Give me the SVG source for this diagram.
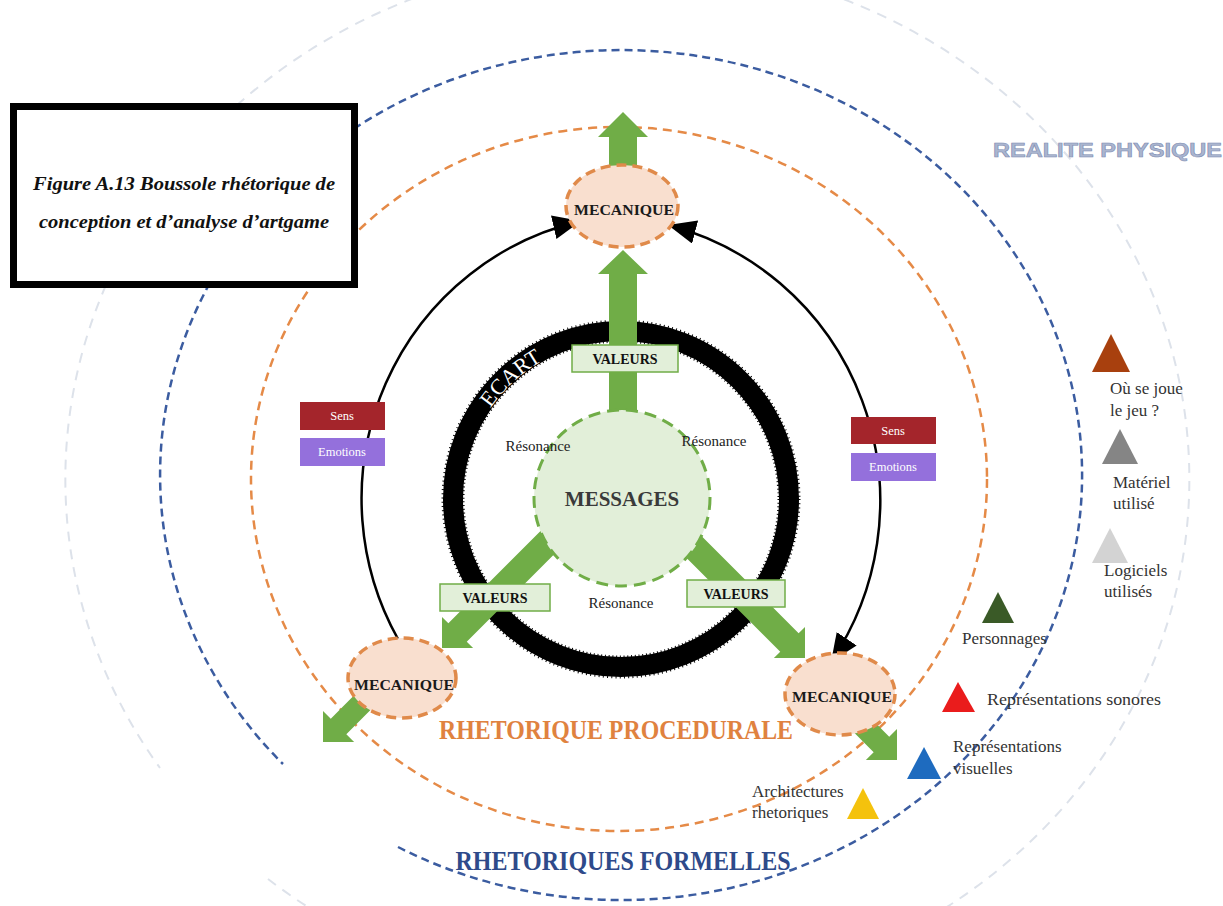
<svg xmlns="http://www.w3.org/2000/svg" width="1223" height="906" viewBox="0 0 1223 906">
<style>
.serif{font-family:"Liberation Serif","Times New Roman",serif}
.lbl{font-family:"Liberation Serif","Times New Roman",serif;font-size:17px;fill:#333}
.mec{fill:#f9dfcf;stroke:#e08a4a;stroke-width:3.5;stroke-dasharray:10 6}
.mect{font-family:"Liberation Serif",serif;font-weight:bold;font-size:14px;fill:#1a1a1a;text-anchor:middle}
.val{fill:#e2efd9;stroke:#70ad47;stroke-width:1.5}
.valt{font-family:"Liberation Serif",serif;font-weight:bold;font-size:14px;fill:#111;text-anchor:middle}
.res{font-family:"Liberation Serif",serif;font-size:15px;fill:#222;text-anchor:middle}
.grn{fill:#70ad47}
.arc{fill:none;stroke:#000;stroke-width:2.5}
.tag{font-family:"Liberation Serif",serif;font-size:12.5px;fill:#fff;text-anchor:middle}
</style>
<defs>
<marker id="ah" markerUnits="userSpaceOnUse" markerWidth="30" markerHeight="26" refX="28" refY="12" orient="auto-start-reverse">
<path d="M0,0 L28,12 L0,24 z" fill="#000"/>
</marker>
<path id="ecartPath" d="M462,499 A159 159 0 0 1 621,340"/>
</defs>
<rect width="1223" height="906" fill="#fff"/>

<g id="realite-physique">
<path d="M268,879 A562 520 0 1 0 160,768" fill="none" stroke="#dde2ea" stroke-width="2" stroke-dasharray="10 8"/>
<text x="993" y="157" font-family="Liberation Sans,Arial,sans-serif" font-weight="bold" font-size="20" fill="#aab5cf" stroke="#7f8db2" stroke-width="0.6" textLength="229" lengthAdjust="spacingAndGlyphs">REALITE PHYSIQUE</text>
</g>

<g id="rhetoriques-formelles">
<path d="M398,847 A461 425 0 1 0 283,764" fill="none" stroke="#3b5ca0" stroke-width="2.5" stroke-dasharray="8 5"/>
<text x="623" y="870" class="serif" font-weight="bold" font-size="27" fill="#2e4a8a" text-anchor="middle" textLength="335" lengthAdjust="spacingAndGlyphs">RHETORIQUES FORMELLES</text>
</g>

<g id="rhetorique-procedurale">
<ellipse cx="619" cy="479" rx="368" ry="352" fill="none" stroke="#e58a47" stroke-width="2.5" stroke-dasharray="9 6"/>
<text x="616" y="739" class="serif" font-weight="bold" font-size="28" fill="#e0823f" text-anchor="middle" textLength="354" lengthAdjust="spacingAndGlyphs">RHETORIQUE PROCEDURALE</text>
</g>

<g id="ecart">
<circle cx="621" cy="499" r="168" fill="none" stroke="#000" stroke-width="20"/>
<circle cx="621" cy="499" r="168" fill="none" stroke="#000" stroke-width="23" stroke-dasharray="1 3"/>
<text class="serif" font-size="22" fill="#fff" text-anchor="middle"><textPath href="#ecartPath" startOffset="132">ECART</textPath></text>
</g>

<g id="connectors">
<path class="arc" d="M398,639 A282 285 0 0 1 581,221" marker-end="url(#ah)"/>
<path class="arc" d="M668,225 A282 285 0 0 1 831,662" marker-start="url(#ah)" marker-end="url(#ah)"/>
<polygon class="grn" transform="translate(623,250) rotate(-90)" points="0,0 -24,25 -24,14 -170,14 -170,-14 -24,-14 -24,-25"/>
<polygon class="grn" transform="translate(623,112) rotate(-90)" points="0,0 -25,25 -25,14 -54,14 -54,-14 -25,-14 -25,-25"/>
<polygon class="grn" transform="translate(442,648) rotate(135)" points="0,0 -22,22 -22,13 -170,13 -170,-13 -22,-13 -22,-22"/>
<polygon class="grn" transform="translate(805,658) rotate(45)" points="0,0 -22,22 -22,13 -170,13 -170,-13 -22,-13 -22,-22"/>
<polygon class="grn" transform="translate(323,742) rotate(135)" points="0,0 -22,22 -22,11 -60,11 -60,-11 -22,-11 -22,-22"/>
<polygon class="grn" transform="translate(897,760) rotate(45)" points="0,0 -22,22 -22,11 -60,11 -60,-11 -22,-11 -22,-22"/>
</g>

<g id="messages">
<circle cx="622" cy="498" r="88" fill="#e2efd9" stroke="#70ad47" stroke-width="3" stroke-dasharray="12 7"/>
<text x="622" y="506" class="serif" font-weight="bold" font-size="21" fill="#3a3a3a" text-anchor="middle">MESSAGES</text>
</g>

<g id="resonance">
<text x="538" y="451" class="res">Résonance</text>
<text x="714" y="446" class="res">Résonance</text>
<text x="621" y="608" class="res">Résonance</text>
</g>

<g id="valeurs-top">
<rect class="val" x="572" y="345" width="106" height="27"/>
<text x="625" y="364" class="valt">VALEURS</text>
</g>
<g id="valeurs-left">
<rect class="val" x="440" y="584" width="110" height="27"/>
<text x="495" y="603" class="valt">VALEURS</text>
</g>
<g id="valeurs-right">
<rect class="val" x="687" y="580" width="98" height="27"/>
<text x="736" y="599" class="valt">VALEURS</text>
</g>

<g id="mecanique-top">
<ellipse class="mec" cx="622" cy="206" rx="56" ry="41"/>
<text x="624" y="215" class="mect" textLength="100" lengthAdjust="spacingAndGlyphs">MECANIQUE</text>
</g>
<g id="mecanique-left">
<ellipse class="mec" cx="402" cy="678" rx="54" ry="40"/>
<text x="404" y="690" class="mect" textLength="100" lengthAdjust="spacingAndGlyphs">MECANIQUE</text>
</g>
<g id="mecanique-right">
<ellipse class="mec" cx="840" cy="694" rx="55" ry="41"/>
<text x="842" y="702" class="mect" textLength="100" lengthAdjust="spacingAndGlyphs">MECANIQUE</text>
</g>

<g id="sens-emotions-left">
<rect x="300" y="402" width="85" height="28" fill="#a4252b"/>
<text x="342" y="420" class="tag">Sens</text>
<rect x="300" y="438" width="85" height="28" fill="#9470dc"/>
<text x="342" y="456" class="tag">Emotions</text>
</g>
<g id="sens-emotions-right">
<rect x="851" y="417" width="85" height="27" fill="#a4252b"/>
<text x="893" y="435" class="tag">Sens</text>
<rect x="851" y="453" width="85" height="28" fill="#9470dc"/>
<text x="893" y="471" class="tag">Emotions</text>
</g>

<g id="title">
<rect x="13.5" y="106.5" width="341" height="178" fill="#fff" stroke="#000" stroke-width="7"/>
<text x="184" y="190" class="serif" font-weight="bold" font-style="italic" font-size="18" fill="#111" text-anchor="middle" textLength="302" lengthAdjust="spacingAndGlyphs">Figure A.13 Boussole rhétorique de</text>
<text x="184" y="228" class="serif" font-weight="bold" font-style="italic" font-size="18" fill="#111" text-anchor="middle" textLength="290" lengthAdjust="spacingAndGlyphs">conception et d’analyse d’artgame</text>
</g>

<g id="legend-ou">
<polygon points="1111,334 1092,372 1130,372" fill="#a8400e"/>
<text x="1110" y="394" class="lbl">Où se joue</text>
<text x="1110" y="416" class="lbl">le jeu ?</text>
</g>
<g id="legend-materiel">
<polygon points="1120,429 1102,464 1138,464" fill="#858585"/>
<text x="1113" y="488" class="lbl">Matériel</text>
<text x="1113" y="509" class="lbl">utilisé</text>
</g>
<g id="legend-logiciels">
<polygon points="1110,528 1092,563 1128,563" fill="#d3d3d3"/>
<text x="1104" y="576" class="lbl">Logiciels</text>
<text x="1104" y="597" class="lbl">utilisés</text>
</g>
<g id="legend-personnages">
<polygon points="998,592 982,623 1014,623" fill="#3a5a27"/>
<text x="962" y="644" class="lbl">Personnages</text>
</g>
<g id="legend-sonores">
<polygon points="958,682 942,712 975,712" fill="#ea1c1c"/>
<text x="987" y="705" class="lbl" textLength="174" lengthAdjust="spacingAndGlyphs">Représentations sonores</text>
</g>
<g id="legend-visuelles">
<polygon points="924,747 907,779 941,779" fill="#1e6bbf"/>
<text x="953" y="752" class="lbl">Représentations</text>
<text x="953" y="774" class="lbl">visuelles</text>
</g>
<g id="legend-architectures">
<polygon points="863,788 847,819 879,819" fill="#f4c20d"/>
<text x="752" y="797" class="lbl">Architectures</text>
<text x="752" y="818" class="lbl">rhetoriques</text>
</g>
</svg>
